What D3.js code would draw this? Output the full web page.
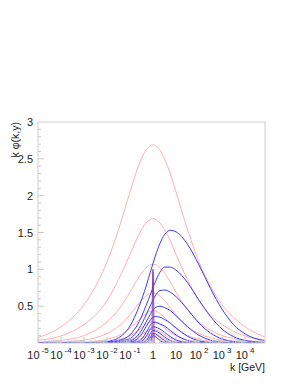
<!DOCTYPE html>
<html>
<head>
<meta charset="utf-8">
<script src="https://cdn.jsdelivr.net/npm/d3@7"></script>
<style>
  body { margin: 0; background: #fff; }
  svg { display: block; }
  text { font-family: "Liberation Sans", Arial, sans-serif; fill: #222; }
</style>
</head>
<body>
<div id="chart"></div>
<script>
// log10(k) grid shared by every curve
var logK = [-5, -4, -3, -2.5, -2, -1.5, -1, -0.6, -0.3, -0.1, 0, 0.1, 0.3, 0.5, 0.75, 1, 1.5, 2, 2.5, 3, 3.5, 4, 4.87];

// red curves (peaked at k = 1 GeV)
var red1 = [0.075, 0.22, 0.52, 0.77, 1.10, 1.54, 2.05, 2.43, 2.62, 2.68, 2.69, 2.68, 2.62, 2.50, 2.30, 2.05, 1.54, 1.10, 0.77, 0.52, 0.35, 0.22, 0.08];
var red2 = [0.037, 0.095, 0.25, 0.38, 0.575, 0.86, 1.20, 1.48, 1.63, 1.68, 1.69, 1.68, 1.63, 1.54, 1.39, 1.20, 0.86, 0.575, 0.38, 0.25, 0.16, 0.095, 0.04];
var red3 = [0.012, 0.036, 0.10, 0.175, 0.285, 0.455, 0.69, 0.90, 1.02, 1.065, 1.07, 1.065, 1.02, 0.95, 0.83, 0.69, 0.455, 0.285, 0.175, 0.10, 0.062, 0.036, 0.014];
var red4 = [0.004, 0.012, 0.04, 0.071, 0.128, 0.225, 0.383, 0.54, 0.64, 0.675, 0.68, 0.675, 0.64, 0.577, 0.48, 0.383, 0.225, 0.128, 0.071, 0.04, 0.022, 0.012, 0.005];
var red5 = [0.0005, 0.003, 0.012, 0.025, 0.05, 0.10, 0.20, 0.317, 0.40, 0.436, 0.44, 0.436, 0.40, 0.348, 0.27, 0.20, 0.10, 0.05, 0.025, 0.012, 0.006, 0.003, 0.001];
var red6 = [0, 0.001, 0.003, 0.007, 0.017, 0.042, 0.097, 0.18, 0.254, 0.286, 0.29, 0.286, 0.254, 0.206, 0.145, 0.097, 0.042, 0.017, 0.007, 0.003, 0.001, 0, 0];
var red7 = [0, 0, 0, 0.0015, 0.0045, 0.0135, 0.041, 0.094, 0.154, 0.185, 0.19, 0.185, 0.154, 0.113, 0.068, 0.041, 0.0135, 0.0045, 0.0015, 0, 0, 0, 0];
var red8 = [0, 0, 0, 0, 0, 0.0035, 0.015, 0.046, 0.094, 0.125, 0.13, 0.125, 0.094, 0.059, 0.03, 0.015, 0.0035, 0, 0, 0, 0, 0, 0];
var red9 = [0, 0, 0, 0, 0, 0, 0.003, 0.015, 0.047, 0.079, 0.085, 0.079, 0.047, 0.023, 0.0085, 0.003, 0, 0, 0, 0, 0, 0, 0];

// blue curves (peak drifts to larger k)
var blue1 = [0, 0.001, 0.003, 0.008, 0.02, 0.07, 0.23, 0.50, 0.77, 0.98, 1.08, 1.18, 1.35, 1.47, 1.53, 1.51, 1.34, 1.06, 0.74, 0.46, 0.25, 0.124, 0.03];
var blue2 = [0, 0.001, 0.002, 0.005, 0.012, 0.035, 0.11, 0.29, 0.51, 0.67, 0.755, 0.83, 0.96, 1.03, 1.03, 0.99, 0.82, 0.58, 0.36, 0.19, 0.086, 0.035, 0.006];
var blue3 = [0, 0, 0.001, 0.003, 0.009, 0.025, 0.06, 0.20, 0.38, 0.52, 0.585, 0.64, 0.71, 0.72, 0.69, 0.63, 0.456, 0.27, 0.135, 0.056, 0.019, 0.006, 0.001];
var blue4 = [0, 0, 0, 0.002, 0.005, 0.012, 0.03, 0.126, 0.285, 0.40, 0.45, 0.48, 0.50, 0.48, 0.44, 0.37, 0.22, 0.105, 0.038, 0.011, 0.003, 0.001, 0];
var blue5 = [0, 0, 0, 0.001, 0.003, 0.006, 0.015, 0.078, 0.22, 0.32, 0.35, 0.36, 0.35, 0.32, 0.27, 0.205, 0.092, 0.029, 0.007, 0.001, 0, 0, 0];
var blue6 = [0, 0, 0, 0, 0.001, 0.002, 0.005, 0.027, 0.14, 0.25, 0.276, 0.28, 0.26, 0.23, 0.17, 0.11, 0.033, 0.006, 0.001, 0, 0, 0, 0];
var blue7 = [0, 0, 0, 0, 0, 0.001, 0.002, 0.005, 0.088, 0.198, 0.22, 0.216, 0.19, 0.145, 0.088, 0.042, 0.005, 0, 0, 0, 0, 0, 0];
var blue8 = [0, 0, 0, 0, 0, 0, 0, 0.001, 0.029, 0.14, 0.17, 0.165, 0.13, 0.083, 0.034, 0.01, 0, 0, 0, 0, 0, 0, 0];
var blue9 = [0, 0, 0, 0, 0, 0, 0, 0, 0.003, 0.086, 0.13, 0.123, 0.079, 0.032, 0.006, 0, 0, 0, 0, 0, 0, 0, 0];
var blue10 = [0, 0, 0, 0, 0, 0, 0, 0, 0, 0.036, 0.10, 0.088, 0.033, 0.004, 0, 0, 0, 0, 0, 0, 0, 0, 0];

// narrow initial spike at k = 1
var spikeLogK = [-0.045, -0.03, -0.01, 0, 0.01, 0.03, 0.045];
var spikeVal = [0, 0.6, 0.97, 1.0, 0.97, 0.6, 0];

var redCurves = [red1, red2, red3, red4, red5, red6, red7, red8, red9];
var blueCurves = [blue1, blue2, blue3, blue4, blue5, blue6, blue7, blue8, blue9, blue10];

var yTicks = [0.5, 1, 1.5, 2, 2.5, 3];
var xTickExp = [-5, -4, -3, -2, -1, 0, 1, 2, 3, 4];

var W = 300, H = 388;
var frame = {left: 38, right: 265, top: 122, bottom: 343};

var svg = d3.select("#chart").append("svg")
    .attr("width", W)
    .attr("height", H);

svg.append("rect").attr("width", W).attr("height", H).attr("fill", "#fff");

var x = d3.scaleLog().domain([1e-5, 7.4e4]).range([frame.left, frame.right]);
var y = d3.scaleLinear().domain([0, 3]).range([frame.bottom, frame.top]);

svg.append("clipPath").attr("id", "clip")
    .append("rect")
    .attr("x", frame.left).attr("y", frame.top)
    .attr("width", frame.right - frame.left)
    .attr("height", frame.bottom - frame.top);

var line = d3.line()
    .x(function(d) { return x(Math.pow(10, d[0])); })
    .y(function(d) { return y(d[1]); })
    .curve(d3.curveMonotoneX);

function pairs(ks, vals) {
    return ks.map(function(k, i) { return [k, vals[i]]; });
}

var plot = svg.append("g").attr("clip-path", "url(#clip)");

plot.selectAll("path.red")
    .data(redCurves)
    .enter().append("path")
    .attr("class", "red")
    .attr("d", function(d) { return line(pairs(logK, d)); })
    .attr("fill", "none")
    .attr("stroke", "#ffa0a0")
    .attr("stroke-width", 0.85);

plot.selectAll("path.blue")
    .data(blueCurves)
    .enter().append("path")
    .attr("class", "blue")
    .attr("d", function(d) { return line(pairs(logK, d)); })
    .attr("fill", "none")
    .attr("stroke", "#3a3aff")
    .attr("stroke-width", 1);

var spikeLine = d3.line()
    .x(function(d) { return x(Math.pow(10, d[0])); })
    .y(function(d) { return y(d[1]); });

plot.append("path")
    .attr("d", spikeLine(pairs(spikeLogK, spikeVal)))
    .attr("fill", "none")
    .attr("stroke", "#8a3aa8")
    .attr("stroke-width", 1);

// frame
svg.append("rect")
    .attr("x", frame.left).attr("y", frame.top)
    .attr("width", frame.right - frame.left)
    .attr("height", frame.bottom - frame.top)
    .attr("fill", "none")
    .attr("stroke", "#d0d0d0")
    .attr("stroke-width", 1);

// y ticks (inside frame), major + minor
var yMinor = d3.range(1, 30).map(function(i) { return i / 10; });
svg.selectAll("line.ymin")
    .data(yMinor)
    .enter().append("line")
    .attr("x1", frame.left).attr("x2", function(d) { return frame.left + (Math.abs(d * 2 - Math.round(d * 2)) < 1e-6 ? 6 : 3); })
    .attr("y1", function(d) { return y(d); }).attr("y2", function(d) { return y(d); })
    .attr("stroke", "#c8c8c8").attr("stroke-width", 1);

svg.selectAll("text.ylab")
    .data(yTicks)
    .enter().append("text")
    .attr("x", 33)
    .attr("y", function(d) { return y(d) + 4; })
    .attr("text-anchor", "end")
    .attr("font-size", 11)
    .text(function(d) { return d; });

// x ticks, log decades + minors
var xMinor = [];
for (var e = -5; e <= 4; e++) {
    for (var m = 1; m <= 9; m++) {
        var v = m * Math.pow(10, e);
        if (v <= 7.4e4) xMinor.push({v: v, major: m === 1});
    }
}
svg.selectAll("line.xmin")
    .data(xMinor)
    .enter().append("line")
    .attr("x1", function(d) { return x(d.v); }).attr("x2", function(d) { return x(d.v); })
    .attr("y1", frame.bottom).attr("y2", function(d) { return frame.bottom - (d.major ? 6 : 3); })
    .attr("stroke", "#c8c8c8").attr("stroke-width", 1);

var xl = svg.selectAll("text.xlab")
    .data(xTickExp)
    .enter().append("text")
    .attr("x", function(d) { return x(Math.pow(10, d)); })
    .attr("y", 359)
    .attr("text-anchor", "middle")
    .attr("font-size", 11);

xl.each(function(d) {
    var t = d3.select(this);
    if (d === 0) { t.text("1"); return; }
    t.append("tspan").text("10");
    if (d !== 1) {
        t.append("tspan").attr("dy", -6.5).attr("dx", 2).attr("font-size", 8).text(d);
    }
});

// axis titles
svg.append("text")
    .attr("transform", "translate(19," + frame.top + ") rotate(-90)")
    .attr("text-anchor", "end")
    .attr("font-size", 10.5)
    .text("k \u03c6(k,y)");

svg.append("text")
    .attr("x", frame.right)
    .attr("y", 371)
    .attr("text-anchor", "end")
    .attr("font-size", 10.5)
    .text("k [GeV]");
</script>
</body>
</html>
